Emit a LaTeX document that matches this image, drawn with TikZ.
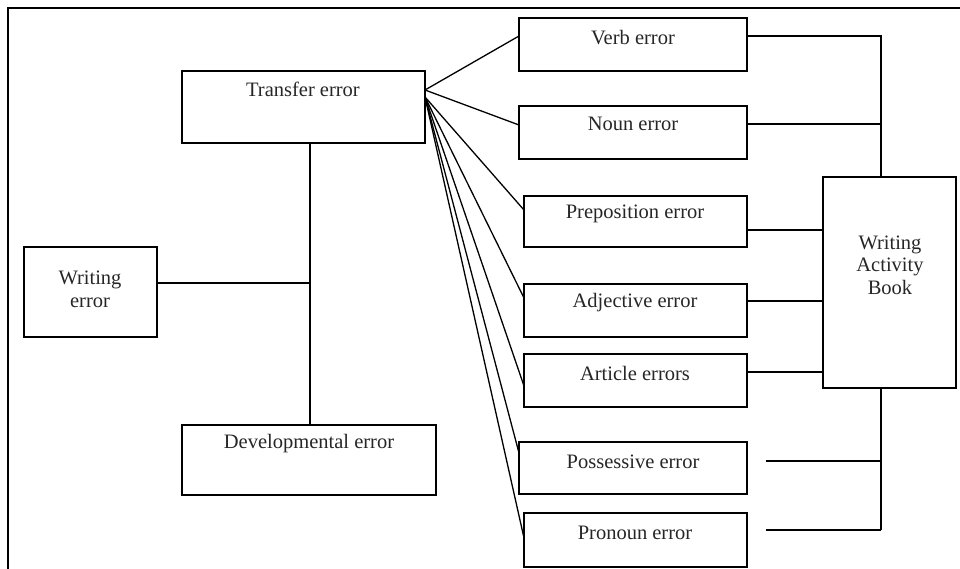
\documentclass[tikz,border=0pt]{standalone}
\usepackage{fontspec}
\setmainfont{Liberation Serif}
\usetikzlibrary{calc}
\begin{document}
\begin{tikzpicture}[x=1pt,y=-1pt,
  bx/.style={draw, line width=1.5pt, inner sep=0pt, outer sep=0pt, anchor=north west},
  lbl/.style={inner sep=0pt, anchor=base, align=center, font=\fontsize{20.5}{22.5}\selectfont, text=black!85},
  ln/.style={line width=1.3pt},
  frm/.style={line width=2pt}]
\useasboundingbox (0,0) rectangle (960,569);
% frame
\coordinate (fbl) at (8,569);
\coordinate (ftl) at (8,8);
\coordinate (ftr) at (960,8);
\draw[frm] (fbl) -- (ftl) -- (ftr);
% boxes
\node[bx, minimum width=243, minimum height=72] (te) at (182,71) {};
\node[bx, minimum width=133, minimum height=90] (we) at (24,247) {};
\node[bx, minimum width=254, minimum height=70] (de) at (182,425) {};
\node[bx, minimum width=228, minimum height=53] (verb) at (519,18) {};
\node[bx, minimum width=228, minimum height=53] (noun) at (519,106) {};
\node[bx, minimum width=223, minimum height=51] (prep) at (524,196) {};
\node[bx, minimum width=223, minimum height=53] (adj) at (524,284) {};
\node[bx, minimum width=223, minimum height=53] (art) at (524,354) {};
\node[bx, minimum width=228, minimum height=52] (poss) at (519,442) {};
\node[bx, minimum width=223, minimum height=54] (pron) at (524,513) {};
\node[bx, minimum width=133, minimum height=211] (wab) at (823,177) {};
% labels
\node[lbl] (tel) at (303,97) {Transfer error};
\node[lbl] (wel) at (90,307) {Writing\\error};
\node[lbl] (del) at (309,448) {Developmental error};
\node[lbl] (verbl) at (633,45) {Verb error};
\node[lbl] (nounl) at (633,131) {Noun error};
\node[lbl] (prepl) at (635,219) {Preposition error};
\node[lbl] (adjl) at (635,307) {Adjective error};
\node[lbl] (artl) at (635,380) {Article errors};
\node[lbl] (possl) at (633,468) {Possessive error};
\node[lbl] (pronl) at (635,539) {Pronoun error};
\node[lbl] (wabl) at (890,294) {Writing\\Activity\\Book};
% left connectors
\coordinate (j1) at (310,283);
\draw[ln] (we.east |- j1) -- (j1);
\draw[ln] (te.south -| j1) -- (de.north -| j1);
% fan
\coordinate (fo) at (425,90);
\coordinate (fo2) at (425,97);
\draw[ln] (fo) -- ($(verb.north west)+(0,18)$);
\draw[ln] (fo) -- ($(noun.north west)+(0,19)$);
\draw[ln] (fo2) -- ($(prep.north west)+(0,14)$);
\draw[ln] (fo2) -- ($(adj.north west)+(0,14)$);
\draw[ln] (fo2) -- ($(art.north west)+(0,32)$);
\draw[ln] (fo2) -- ($(poss.north west)+(0,11)$);
\draw[ln] (fo2) -- ($(pron.north west)+(0,25)$);
% right connectors
\coordinate (bt) at (881,36);
\coordinate (bb) at (881,530);
\draw[ln] ($(verb.north east)+(0,18)$) -- (bt) -- (wab.north -| bt);
\draw[ln] ($(noun.north east)+(0,18)$) -- ($(noun.north east -| bt)+(0,18)$);
\draw[ln] ($(prep.north east)+(0,34)$) -- ($(prep.north east -| wab.west)+(0,34)$);
\draw[ln] ($(adj.north east)+(0,17)$) -- ($(adj.north east -| wab.west)+(0,17)$);
\draw[ln] ($(art.north east)+(0,18)$) -- ($(art.north east -| wab.west)+(0,18)$);
\draw[ln] (wab.south -| bt) -- (bb);
\coordinate (pe) at (766,461);
\coordinate (qe) at (766,530);
\draw[ln] (pe) -- (pe -| bt);
\draw[ln] (qe) -- (bb);
\end{tikzpicture}
\end{document}
